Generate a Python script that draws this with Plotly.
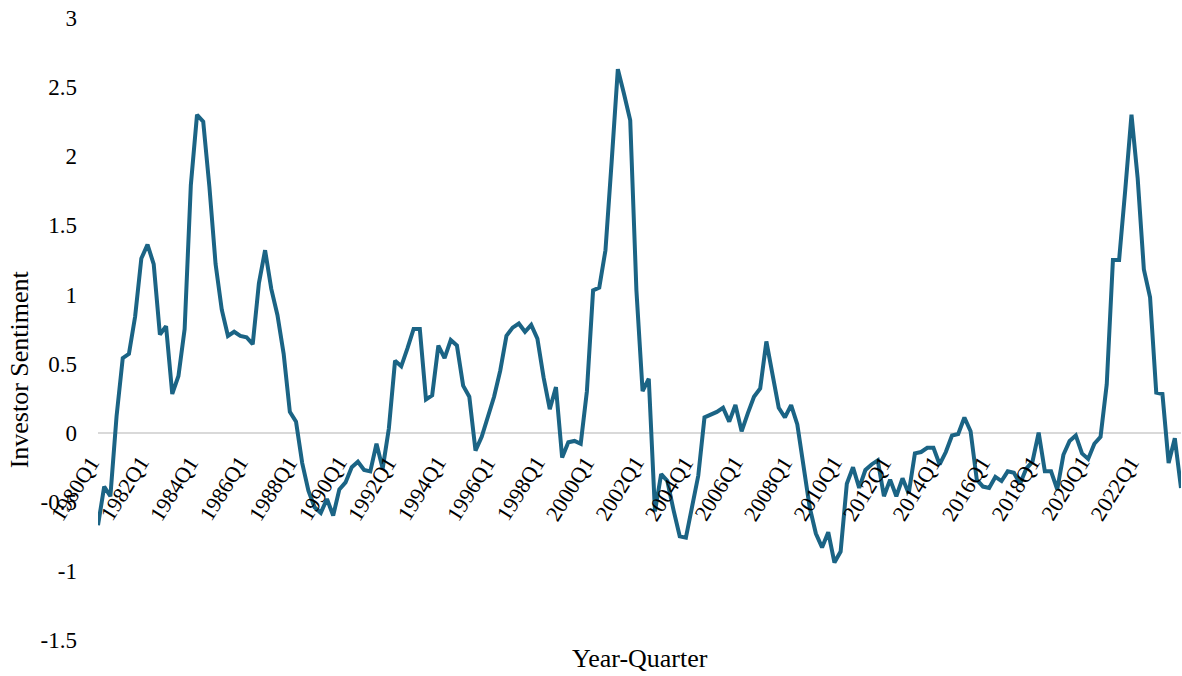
import plotly.graph_objects as go

# Quarterly investor sentiment index, 1980Q1 - 2023Q4
years = list(range(1980, 2024))
quarter_ids = [1, 2, 3, 4]
quarters = [f"{y}Q{q}" for y in years for q in quarter_ids]

sentiment = [
    -0.67, -0.39, -0.46, 0.12, 0.54, 0.57, 0.84, 1.26, 1.36, 1.22,
    0.71, 0.77, 0.28, 0.41, 0.75, 1.79, 2.30, 2.25, 1.78, 1.22,
    0.89, 0.70, 0.73, 0.70, 0.69, 0.64, 1.08, 1.32, 1.04, 0.85,
    0.57, 0.15, 0.08, -0.22, -0.42, -0.54, -0.58, -0.48, -0.60, -0.41,
    -0.36, -0.25, -0.21, -0.27, -0.28, -0.08, -0.26, 0.03, 0.52, 0.48,
    0.61, 0.75, 0.75, 0.24, 0.27, 0.63, 0.54, 0.67, 0.63, 0.34,
    0.26, -0.13, -0.03, 0.12, 0.26, 0.45, 0.70, 0.76, 0.79, 0.73,
    0.78, 0.68, 0.40, 0.17, 0.33, -0.18, -0.07, -0.06, -0.08, 0.30,
    1.03, 1.05, 1.32, 1.96, 2.63, 2.45, 2.26, 1.03, 0.30, 0.39,
    -0.57, -0.30, -0.35, -0.56, -0.75, -0.76, -0.54, -0.31, 0.11, 0.13,
    0.15, 0.18, 0.08, 0.20, 0.01, 0.14, 0.26, 0.32, 0.66, 0.42,
    0.18, 0.11, 0.20, 0.06, -0.22, -0.54, -0.73, -0.83, -0.72, -0.94,
    -0.86, -0.37, -0.25, -0.40, -0.27, -0.23, -0.20, -0.46, -0.34, -0.46,
    -0.33, -0.44, -0.15, -0.14, -0.11, -0.11, -0.23, -0.14, -0.02, -0.01,
    0.11, 0.01, -0.34, -0.39, -0.40, -0.32, -0.35, -0.28, -0.29, -0.37,
    -0.26, -0.21, 0.00, -0.28, -0.28, -0.41, -0.16, -0.06, -0.02, -0.15,
    -0.19, -0.08, -0.03, 0.35, 1.25, 1.25, 1.76, 2.30, 1.84, 1.18,
    0.98, 0.29, 0.28, -0.22, -0.04, -0.40,
]

tick_labels = quarters[::8]
y_ticks = [-1.5, -1, -0.5, 0, 0.5, 1, 1.5, 2, 2.5, 3]
y_tick_text = ["-1.5", "-1", "-0.5", "0", "0.5", "1", "1.5", "2", "2.5", "3"]

FONT = "Liberation Serif, Times New Roman, serif"
LINE_COLOR = "#1b6485"

fig = go.Figure()
fig.add_trace(go.Scatter(
    x=quarters,
    y=sentiment,
    mode="lines",
    line=dict(color=LINE_COLOR, width=4),
    hoverinfo="x+y",
))

# Slanted category labels hanging just under the zero line
category_labels = [
    dict(
        x=lab, y=0, xref="x", yref="y",
        text=lab,
        textangle=-58,
        xanchor="right", yanchor="top",
        xshift=9, yshift=-16,
        showarrow=False,
        font=dict(family=FONT, size=22, color="black"),
    )
    for lab in tick_labels
]

y_min, y_max = -1.5, 3
fig.update_layout(
    width=1182,
    height=676,
    margin=dict(l=98, r=1, t=18, b=36),
    paper_bgcolor="white",
    plot_bgcolor="white",
    showlegend=False,
    font=dict(family=FONT, color="black"),
    xaxis=dict(
        type="category",
        range=[0, len(quarters) - 1],
        showticklabels=False,
        showgrid=False,
        zeroline=False,
        showline=False,
        ticks="",
    ),
    yaxis=dict(
        range=[y_min, y_max],
        tickmode="array",
        tickvals=y_ticks,
        ticktext=y_tick_text,
        tickfont=dict(family=FONT, size=23, color="black"),
        showgrid=False,
        showline=False,
        zeroline=True,
        zerolinecolor="#d9d9d9",
        zerolinewidth=2,
        ticks="",
        ticklabelstandoff=20,
    ),
    annotations=category_labels + [
        dict(
            text="Year-Quarter",
            xref="paper", yref="paper",
            x=0.5, y=-0.004,
            yanchor="top", xanchor="center",
            showarrow=False,
            font=dict(family=FONT, size=26, color="black"),
        ),
        dict(
            text="Investor Sentiment",
            xref="paper", yref="paper",
            x=-0.073, y=0.435,
            xanchor="center", yanchor="middle",
            textangle=-90,
            showarrow=False,
            font=dict(family=FONT, size=26, color="black"),
        ),
    ],
)

fig.write_html("out.html")
